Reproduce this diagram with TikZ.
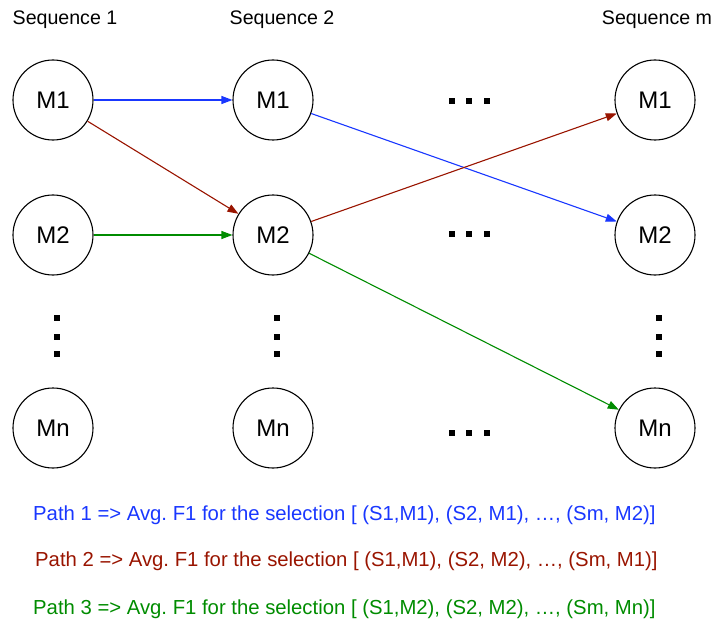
\documentclass[tikz,border=0pt]{standalone}
\usepackage{fontspec}
\setmainfont{Liberation Sans}
\usetikzlibrary{arrows.meta}
\definecolor{pblue}{RGB}{25,55,255}
\definecolor{pred}{RGB}{153,20,0}
\definecolor{pgreen}{RGB}{0,140,0}
\frenchspacing
\begin{document}
\begin{tikzpicture}[x=1pt,y=-1pt,
  mnode/.style={draw=black,line width=1.1pt,circle,minimum size=80pt,inner sep=0pt,font=\fontsize{24}{27}\selectfont},
  seqlbl/.style={font=\fontsize{19.6}{23}\selectfont,inner sep=0pt},
  conn/.style={line width=1.1pt,-{Triangle[length=11pt,width=8pt]}},
  pathlbl/.style={font=\fontsize{20.3}{24}\selectfont,inner sep=0pt,anchor=west},
  sq/.style={fill=black}]
\useasboundingbox (0,0) rectangle (716,626);
\node[seqlbl] (s1) at (65,20) {Sequence 1};
\node[seqlbl] (s2) at (282,20) {Sequence 2};
\node[seqlbl] (sm) at (657,20) {Sequence m};

\node[mnode] (a1) at (53,100) {M1};
\node[mnode] (a2) at (53,235) {M2};
\node[mnode] (an) at (53,428) {Mn};
\node[mnode] (b1) at (273,100) {M1};
\node[mnode] (b2) at (273,235) {M2};
\node[mnode] (bn) at (273,428) {Mn};
\node[mnode] (c1) at (655,100) {M1};
\node[mnode] (c2) at (655,235) {M2};
\node[mnode] (cn) at (655,428) {Mn};

% horizontal dots
\foreach \y in {101,234,433}{
  \foreach \x in {452,469,487}{
    \fill[sq] (\x-2.6,\y-2.6) rectangle (\x+2.6,\y+2.6);
  }
}
% vertical dots
\foreach \x in {57,277,659}{
  \foreach \y in {318,337,354}{
    \fill[sq] (\x-2.6,\y-2.6) rectangle (\x+2.6,\y+2.6);
  }
}

\draw[conn,pblue] (a1) -- (b1);
\draw[conn,pblue] (b1) -- (c2);
\draw[conn,pred] (a1) -- (b2);
\draw[conn,pred] (b2) -- (c1);
\draw[conn,pgreen] (a2) -- (b2);
\draw[conn,pgreen] (b2) -- (cn);

\node[pathlbl,text=pblue] (p1) at (33,515) {Path 1 => Avg. F1 for the selection [ (S1,M1), (S2, M1), …, (Sm, M2)]};
\node[pathlbl,text=pred] (p2) at (35,561) {Path 2 => Avg. F1 for the selection [ (S1,M1), (S2, M2), …, (Sm, M1)]};
\node[pathlbl,text=pgreen] (p3) at (33,609) {Path 3 => Avg. F1 for the selection [ (S1,M2), (S2, M2), …, (Sm, Mn)]};
\end{tikzpicture}
\end{document}
